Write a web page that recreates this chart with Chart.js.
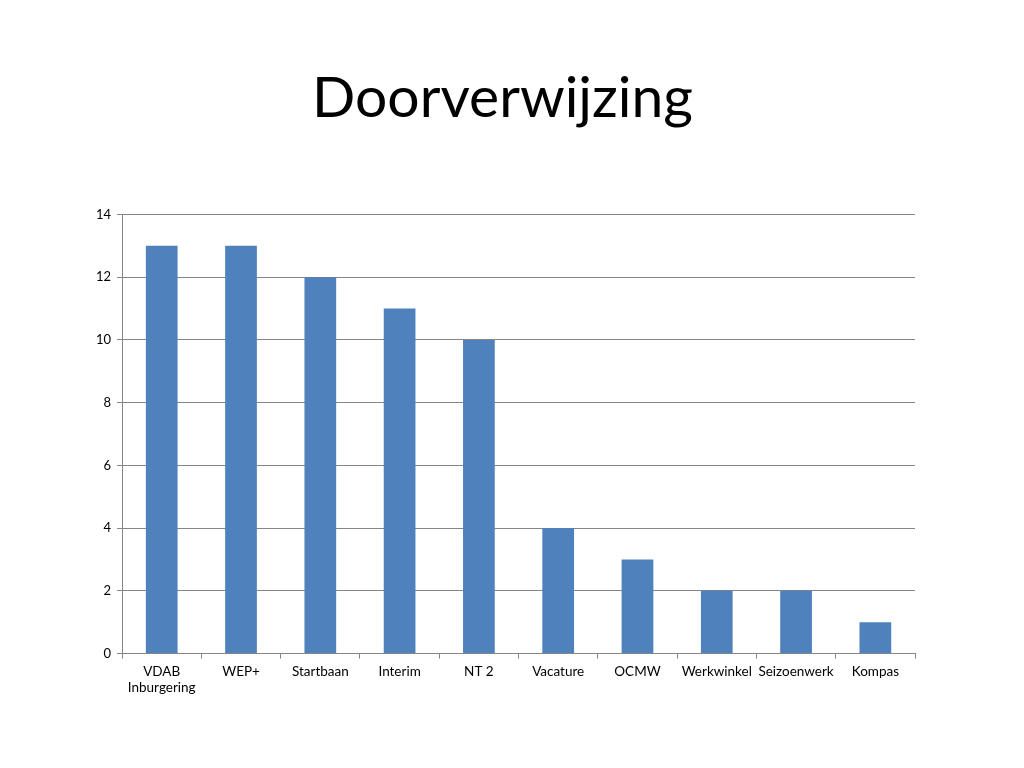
<!DOCTYPE html>
<html>
<head>
<meta charset="utf-8">
<script src="https://cdn.jsdelivr.net/npm/chart.js@4"></script>
<style>
  body { margin: 0; background: #fff; }
  #wrap { width: 1024px; height: 768px; }
</style>
</head>
<body>
<div id="wrap"><canvas id="doorverwijzingChart" width="1024" height="768"></canvas></div>
<script>
// Chart data
const categories = [['VDAB', 'Inburgering'], 'WEP+', 'Startbaan', 'Interim', 'NT 2', 'Vacature', 'OCMW', 'Werkwinkel', 'Seizoenwerk', 'Kompas'];
const values = [13, 13, 12, 11, 10, 4, 3, 2, 2, 1];
const yTicks = [0, 2, 4, 6, 8, 10, 12, 14];

const fontFamily = 'Lato, "Open Sans", sans-serif';
const axisGrey = '#868686';

const ctx = document.getElementById('doorverwijzingChart').getContext('2d');
new Chart(ctx, {
    type: 'bar',
    data: {
        labels: categories,
        datasets: [{
            data: values,
            backgroundColor: '#4F81BD',
            barPercentage: 0.4,
            categoryPercentage: 1.0
        }]
    },
    options: {
        responsive: false,
        animation: false,
        layout: {
            padding: { left: 90, right: 109, top: 0, bottom: 67 }
        },
        plugins: {
            legend: { display: false },
            tooltip: { enabled: false },
            title: {
                display: true,
                text: 'Doorverwijzing',
                color: '#000',
                font: { family: fontFamily, size: 57, weight: 'normal' },
                padding: { top: 64, bottom: 82 }
            }
        },
        scales: {
            x: {
                offset: true,
                grid: {
                    offset: true,
                    drawOnChartArea: false,
                    drawTicks: true,
                    tickLength: 5,
                    color: axisGrey
                },
                border: { color: axisGrey },
                ticks: {
                    color: '#000',
                    font: { family: fontFamily, size: 13.5 },
                    maxRotation: 0,
                    autoSkip: false,
                    padding: 5
                }
            },
            y: {
                min: 0,
                max: 14,
                afterBuildTicks: function(axis) {
                    axis.ticks = yTicks.map(v => ({ value: v }));
                },
                grid: {
                    color: axisGrey,
                    tickLength: 5
                },
                border: { color: axisGrey },
                ticks: {
                    color: '#000',
                    font: { family: fontFamily, size: 13 },
                    padding: 6
                }
            }
        }
    }
});
</script>
</body>
</html>
